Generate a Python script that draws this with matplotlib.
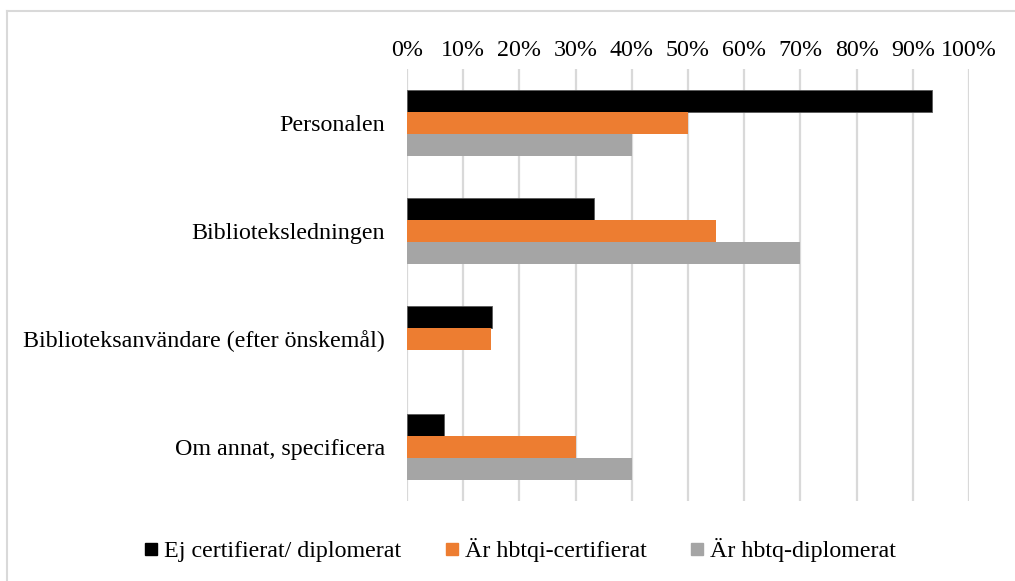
import numpy as np
import matplotlib.pyplot as plt
from matplotlib.lines import Line2D
from matplotlib.ticker import FuncFormatter

plt.rcParams['font.family'] = ['Liberation Serif', 'DejaVu Serif']

# data
categories = ['Personalen', 'Biblioteksledningen',
              'Biblioteksanvändare (efter önskemål)', 'Om annat, specificera']
series_names = ['Ej certifierat/ diplomerat', 'Är hbtqi-certifierat', 'Är hbtq-diplomerat']
ej_cert = [93.5, 33.2, 15.2, 6.6]
hbtqi_cert = [50, 55, 15, 30]
hbtq_dipl = [40, 70, 0, 40]
colors = ['#000000', '#ED7D31', '#A5A5A5']

fig = plt.figure(figsize=(10.15, 5.81), dpi=100)
ax = fig.add_axes([407/1015, 1-501/581, (969-407)/1015, (501-69)/581])

y = np.arange(len(categories))
h = 0.205
for i, vals in enumerate([ej_cert, hbtqi_cert, hbtq_dipl]):
    ax.barh(y + (i-1)*h, vals, height=h, color=colors[i],
            edgecolor='#595959', linewidth=0.6 if i == 0 else 0, zorder=3)

ax.set_xlim(0, 100)
ax.set_ylim(3.5, -0.5)
ax.set_xticks(np.arange(0, 101, 10))
ax.xaxis.set_major_formatter(FuncFormatter(lambda v, p: '%d%%' % v))
ax.xaxis.tick_top()
ax.set_yticks(y)
ax.set_yticklabels(categories)
ax.tick_params(axis='both', length=0, labelsize=17.3, colors='#000000')
ax.tick_params(axis='x', pad=6)
ax.tick_params(axis='y', pad=16)
ax.grid(axis='x', color='#D9D9D9', linewidth=1.6, zorder=0)
for s in ax.spines.values():
    s.set_visible(False)

# legend
handles = [Line2D([], [], marker='s', linestyle='none', markersize=9,
                  markerfacecolor=c, markeredgecolor=c) for c in colors]
fig.legend(handles, series_names, loc='center', bbox_to_anchor=(0.511, 1-550/581),
           ncol=3, frameon=False, fontsize=17.3, handletextpad=0.15,
           columnspacing=1.7, handlelength=0.8)

# chart border (top and left)
fig.add_artist(Line2D([7/1015, 7/1015], [0, 1-11/581], color='#D9D9D9', linewidth=1.5))
fig.add_artist(Line2D([7/1015, 1], [1-11/581, 1-11/581], color='#D9D9D9', linewidth=1.5))

plt.savefig('out.png', dpi=100)
plt.close()
